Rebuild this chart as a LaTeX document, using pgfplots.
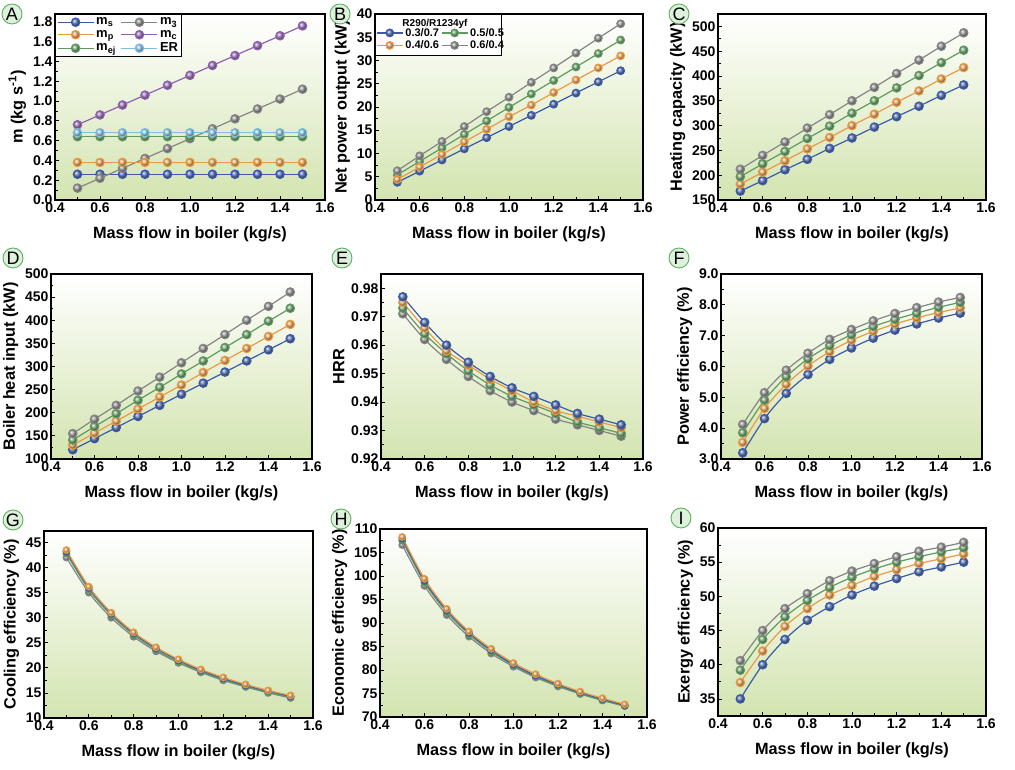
\documentclass[border=0pt]{standalone}
\usepackage{fontspec}
\setmainfont{Liberation Sans}
\usepackage{pgfplots}
\usepackage{pgfplotstable}
\pgfplotsset{compat=1.18}
\definecolor{cblue}{HTML}{3B5BA8}
\definecolor{corange}{HTML}{E99A45}
\definecolor{cgreen}{HTML}{5F9A5F}
\definecolor{cgray}{HTML}{858585}
\definecolor{cpurple}{HTML}{9060B0}
\definecolor{clblue}{HTML}{80BDE5}
\definecolor{bggreen}{HTML}{D3E4B0}
\definecolor{circfill}{HTML}{DDF1DD}
\definecolor{circdraw}{HTML}{5DB05D}

\pgfplotstableread{
x ms mp mej m3 mc ER
0.5 0.26 0.38 0.64 0.12 0.76 0.68
0.6 0.26 0.38 0.64 0.22 0.86 0.68
0.7 0.26 0.38 0.64 0.32 0.96 0.68
0.8 0.26 0.38 0.64 0.42 1.06 0.68
0.9 0.26 0.38 0.64 0.52 1.16 0.68
1.0 0.26 0.38 0.64 0.62 1.26 0.68
1.1 0.26 0.38 0.64 0.72 1.36 0.68
1.2 0.26 0.38 0.64 0.82 1.46 0.68
1.3 0.26 0.38 0.64 0.92 1.56 0.68
1.4 0.26 0.38 0.64 1.02 1.66 0.68
1.5 0.26 0.38 0.64 1.12 1.76 0.68
}\tabA
\pgfplotstableread{
x a b c d
0.5 3.8 4.4 5.4 6.3
0.6 6.2 7.1 8.3 9.5
0.7 8.6 9.8 11.2 12.6
0.8 11.0 12.5 14.1 15.8
0.9 13.4 15.2 17.0 19.0
1.0 15.8 17.9 19.9 22.1
1.1 18.2 20.4 22.8 25.3
1.2 20.6 23.1 25.7 28.4
1.3 23.0 25.8 28.6 31.6
1.4 25.4 28.4 31.5 34.8
1.5 27.8 31.0 34.4 37.9
}\tabB
\pgfplotstableread{
x a b c d
0.5 168 182 197 212
0.6 189 206 223 240
0.7 211 229 248 267
0.8 232 253 274 295
0.9 254 276 299 322
1.0 275 300 325 350
1.1 297 323 350 377
1.2 318 347 376 405
1.3 339 370 401 432
1.4 361 394 427 460
1.5 382 417 452 487
}\tabC
\pgfplotstableread{
x a b c d
0.5 120 130 141 155
0.6 144 156 170 186
0.7 168 182 198 216
0.8 192 208 227 247
0.9 216 234 255 277
1.0 240 260 284 308
1.1 264 287 312 339
1.2 288 313 341 369
1.3 312 339 369 400
1.4 336 365 398 430
1.5 360 391 426 461
}\tabD
\pgfplotstableread{
x a b c d
0.5 0.977 0.975 0.973 0.971
0.6 0.968 0.966 0.964 0.962
0.7 0.960 0.958 0.957 0.955
0.8 0.954 0.953 0.951 0.949
0.9 0.949 0.948 0.946 0.944
1.0 0.945 0.944 0.942 0.940
1.1 0.942 0.940 0.939 0.937
1.2 0.939 0.937 0.936 0.934
1.3 0.936 0.935 0.933 0.932
1.4 0.934 0.933 0.931 0.930
1.5 0.932 0.931 0.929 0.928
}\tabE
\pgfplotstableread{
x a b c d
0.5 3.20 3.54 3.85 4.12
0.6 4.31 4.64 4.91 5.15
0.7 5.13 5.42 5.67 5.88
0.8 5.74 6.02 6.25 6.43
0.9 6.23 6.48 6.68 6.88
1.0 6.60 6.85 7.03 7.20
1.1 6.92 7.14 7.30 7.48
1.2 7.18 7.38 7.53 7.72
1.3 7.38 7.58 7.73 7.91
1.4 7.57 7.75 7.92 8.09
1.5 7.73 7.90 8.08 8.24
}\tabF
\pgfplotstableread{
x a b c d
0.5 43.2 43.5 42.8 42.0
0.6 36.0 36.2 35.6 35.0
0.7 30.8 31.0 30.5 30.0
0.8 26.9 27.1 26.6 26.2
0.9 23.9 24.1 23.6 23.3
1.0 21.5 21.7 21.2 21.0
1.1 19.5 19.7 19.3 19.1
1.2 17.9 18.1 17.7 17.5
1.3 16.5 16.7 16.3 16.2
1.4 15.4 15.5 15.2 15.0
1.5 14.3 14.5 14.2 14.0
}\tabG
\pgfplotstableread{
x a b c d
0.5 108.0 108.3 107.5 106.6
0.6 99.0 99.4 98.6 97.9
0.7 92.7 93.0 92.3 91.7
0.8 87.9 88.2 87.6 87.1
0.9 84.2 84.5 83.9 83.5
1.0 81.2 81.5 81.0 80.7
1.1 78.8 79.1 78.6 78.4
1.2 76.9 77.1 76.7 76.5
1.3 75.2 75.4 75.0 74.9
1.4 73.8 74.0 73.6 73.5
1.5 72.5 72.7 72.4 72.3
}\tabH
\pgfplotstableread{
x a b c d
0.5 35.0 37.4 39.2 40.6
0.6 40.0 42.0 43.7 45.0
0.7 43.7 45.6 47.0 48.2
0.8 46.5 48.2 49.4 50.4
0.9 48.5 50.2 51.3 52.3
1.0 50.2 51.6 52.8 53.7
1.1 51.5 52.9 54.0 54.8
1.2 52.6 53.9 55.0 55.8
1.3 53.6 54.8 55.8 56.6
1.4 54.3 55.5 56.5 57.2
1.5 55.0 56.2 57.1 57.9
}\tabI

\pgfplotsset{
  panel/.style={
    scale only axis, anchor=south west,
    xmin=0.4, xmax=1.6,
    xtick={0.4,0.6,0.8,1.0,1.2,1.4,1.6},
    minor x tick num=1, minor y tick num=1,
    tick align=inside, xtick pos=bottom, ytick pos=left,
    major tick length=4pt, minor tick length=2.5pt,
    every tick/.style={black, line width=0.8pt},
    axis line style={line width=1.2pt},
    /pgf/number format/assume math mode=true,
    ticklabel style={font=\bfseries\fontsize{14}{15}\selectfont},
    x tick label style={yshift=1pt},
    y tick label style={xshift=1pt},
    label style={font=\bfseries\fontsize{16.3}{18}\selectfont},
    x tick label style={/pgf/number format/.cd, fixed, fixed zerofill, precision=1},
    scaled ticks=false,
    xlabel={Mass flow in boiler (kg/s)},
    xlabel style={yshift=-7pt},
    axis background/.style={shade, top color=white, middle color=bggreen!40!white, bottom color=bggreen},
    legend image code/.code={\draw[mark repeat=2,mark phase=2] plot coordinates {(0pt,0pt)(18pt,0pt)(36pt,0pt)};},
  },
  ser/.style={color=#1, line width=1.2pt, mark=ball, mark size=4.2pt, mark options={ball color=#1!80!white}},
  sm/.style={ser=#1, smooth},
}
\newcommand{\plabel}[2]{\node[circle, draw=circdraw, fill=circfill, line width=0.9pt, inner sep=0pt, minimum size=20pt, font=\fontsize{18}{18}\selectfont] at (#1) {#2};}

\begin{document}
\begin{tikzpicture}
\path[use as bounding box] (0,0) rectangle (1015pt,770pt);

% A
\begin{axis}[panel, at={(55pt,570pt)}, width=270pt, height=186pt,
  ymin=0, ymax=1.88, ytick={0,0.2,...,1.8},
  y tick label style={/pgf/number format/.cd, fixed, fixed zerofill, precision=1},
  ylabel={m (kg s\textsuperscript{-1})},
  legend columns=2,
  legend style={at={(0,1)}, anchor=north west, draw=black, line width=1pt, fill=white,
    font=\bfseries\fontsize{13}{15}\selectfont, inner sep=1.5pt, row sep=0pt,
    /tikz/every even column/.append style={column sep=3pt}},
  legend cell align=left]
\addplot[ser=cblue] table[x=x,y=ms] {\tabA};
\addlegendentry{m\textsubscript{s}}
\addplot[ser=cgray] table[x=x,y=m3] {\tabA};
\addlegendentry{m\textsubscript{3}}
\addplot[ser=corange] table[x=x,y=mp] {\tabA};
\addlegendentry{m\textsubscript{p}}
\addplot[ser=cpurple] table[x=x,y=mc] {\tabA};
\addlegendentry{m\textsubscript{c}}
\addplot[ser=cgreen] table[x=x,y=mej] {\tabA};
\addlegendentry{m\textsubscript{ej}}
\addplot[ser=clblue] table[x=x,y=ER] {\tabA};
\addlegendentry{ER}
\end{axis}

% B
\begin{axis}[panel, at={(375pt,570pt)}, width=268pt, height=186pt,
  ymin=0, ymax=40, ytick={0,5,...,40},
  ylabel={Net power output (kW)},
  legend columns=2,
  legend image code/.code={\draw[mark repeat=2,mark phase=2] plot coordinates {(0pt,0pt)(13pt,0pt)(26pt,0pt)};},
  legend style={at={(0,1)}, anchor=north west, yshift=-11pt, draw=none, fill=none,
    font=\bfseries\fontsize{11}{12}\selectfont, inner sep=1pt, row sep=-1pt,
    /tikz/every even column/.append style={column sep=0pt}},
  legend cell align=left]
\node[draw=black, line width=1pt, fill=white, anchor=north west, minimum width=126pt, minimum height=41pt, inner sep=0pt] at (rel axis cs:0,1) {};
\node[font=\bfseries\fontsize{10}{10}\selectfont, anchor=north] at ([xshift=60pt,yshift=-2pt]rel axis cs:0,1) {R290/R1234yf};
\addplot[ser=cblue, mark size=3.8pt] table[x=x,y=a] {\tabB};
\addlegendentry{0.3/0.7}
\addplot[ser=cgreen, mark size=3.8pt] table[x=x,y=c] {\tabB};
\addlegendentry{0.5/0.5}
\addplot[ser=corange, mark size=3.8pt] table[x=x,y=b] {\tabB};
\addlegendentry{0.4/0.6}
\addplot[ser=cgray, mark size=3.8pt] table[x=x,y=d] {\tabB};
\addlegendentry{0.6/0.4}
\end{axis}

% C
\begin{axis}[panel, at={(718pt,570pt)}, width=268pt, height=186pt,
  ymin=150, ymax=525, ytick={150,200,...,500},
  ylabel={Heating capacity (kW)}]
\addplot[ser=cblue] table[x=x,y=a] {\tabC};
\addplot[ser=corange] table[x=x,y=b] {\tabC};
\addplot[ser=cgreen] table[x=x,y=c] {\tabC};
\addplot[ser=cgray] table[x=x,y=d] {\tabC};
\end{axis}

% D
\begin{axis}[panel, at={(51pt,311pt)}, width=261pt, height=185pt,
  ymin=100, ymax=500, ytick={100,150,...,500},
  ylabel={Boiler heat input (kW)}]
\addplot[ser=cblue] table[x=x,y=a] {\tabD};
\addplot[ser=corange] table[x=x,y=b] {\tabD};
\addplot[ser=cgreen] table[x=x,y=c] {\tabD};
\addplot[ser=cgray] table[x=x,y=d] {\tabD};
\end{axis}

% E
\begin{axis}[panel, at={(381pt,311pt)}, width=262pt, height=185pt,
  ymin=0.92, ymax=0.985, ytick={0.92,0.93,0.94,0.95,0.96,0.97,0.98},
  y tick label style={/pgf/number format/.cd, fixed, fixed zerofill, precision=2},
  ylabel={HRR}]
\addplot[sm=cgray] table[x=x,y=d] {\tabE};
\addplot[sm=cgreen] table[x=x,y=c] {\tabE};
\addplot[sm=corange] table[x=x,y=b] {\tabE};
\addplot[sm=cblue] table[x=x,y=a] {\tabE};
\end{axis}

% F
\begin{axis}[panel, at={(721pt,311pt)}, width=261pt, height=185pt,
  ymin=3, ymax=9, ytick={3,4,5,6,7,8,9},
  y tick label style={/pgf/number format/.cd, fixed, fixed zerofill, precision=1},
  ylabel={Power efficiency (\%)}]
\addplot[sm=cblue] table[x=x,y=a] {\tabF};
\addplot[sm=corange] table[x=x,y=b] {\tabF};
\addplot[sm=cgreen] table[x=x,y=c] {\tabF};
\addplot[sm=cgray] table[x=x,y=d] {\tabF};
\end{axis}

% G
\begin{axis}[panel, at={(44pt,52pt)}, width=269pt, height=187pt,
  ymin=10, ymax=47.3, ytick={10,15,...,45},
  ylabel={Cooling efficiency (\%)}]
\addplot[sm=cgray, mark size=3.3pt] table[x=x,y=d] {\tabG};
\addplot[sm=cgreen, mark size=3.3pt] table[x=x,y=c] {\tabG};
\addplot[sm=cblue, mark size=3.3pt] table[x=x,y=a] {\tabG};
\addplot[sm=corange, mark size=3.3pt] table[x=x,y=b] {\tabG};
\end{axis}

% H
\begin{axis}[panel, at={(380pt,53pt)}, width=267pt, height=188pt,
  ymin=70, ymax=110, ytick={70,75,...,110},
  ylabel={Economic efficiency (\%)}]
\addplot[sm=cgray, mark size=3.3pt] table[x=x,y=d] {\tabH};
\addplot[sm=cgreen, mark size=3.3pt] table[x=x,y=c] {\tabH};
\addplot[sm=cblue, mark size=3.3pt] table[x=x,y=a] {\tabH};
\addplot[sm=corange, mark size=3.3pt] table[x=x,y=b] {\tabH};
\end{axis}

% I
\begin{axis}[panel, at={(718pt,54pt)}, width=268pt, height=188pt,
  ymin=32.5, ymax=60, ytick={35,40,...,60},
  ylabel={Exergy efficiency (\%)}]
\addplot[sm=cblue] table[x=x,y=a] {\tabI};
\addplot[sm=corange] table[x=x,y=b] {\tabI};
\addplot[sm=cgreen] table[x=x,y=c] {\tabI};
\addplot[sm=cgray] table[x=x,y=d] {\tabI};
\end{axis}

\plabel{12pt,756pt}{A}
\plabel{340pt,756pt}{B}
\plabel{679pt,756pt}{C}
\plabel{13pt,512pt}{D}
\plabel{342pt,512pt}{E}
\plabel{679pt,512pt}{F}
\plabel{13pt,250pt}{G}
\plabel{341pt,251pt}{H}
\plabel{681pt,252pt}{I}
\end{tikzpicture}
\end{document}
